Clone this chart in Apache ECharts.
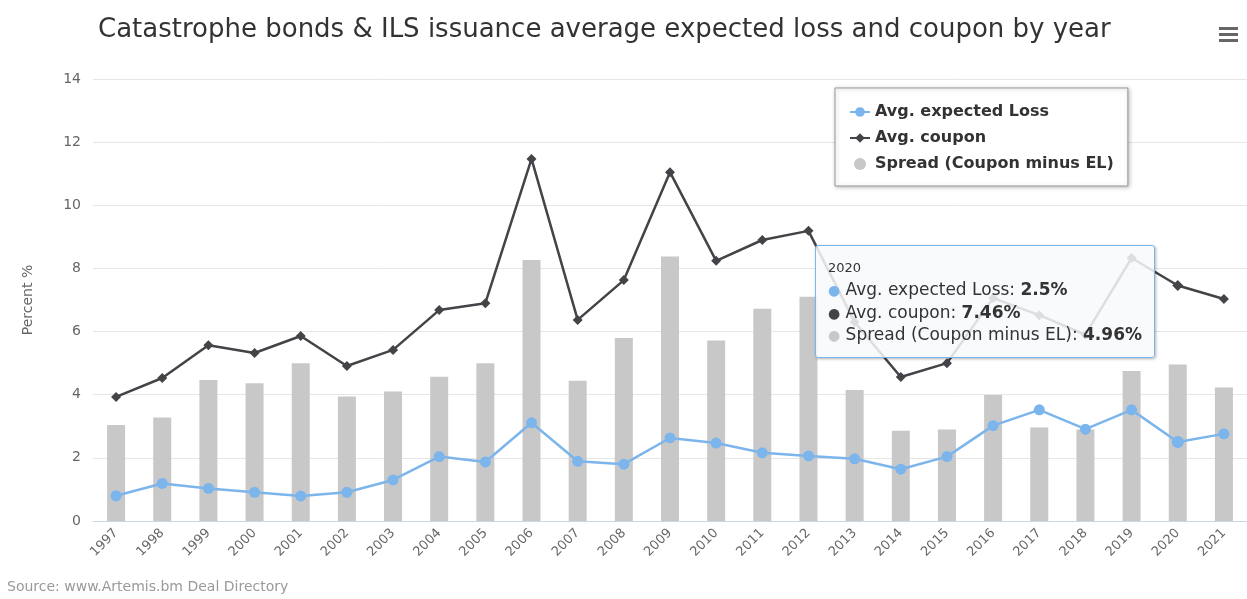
<!DOCTYPE html>
<html>
<head>
<meta charset="utf-8">
<script src="https://cdn.jsdelivr.net/npm/echarts@6/dist/echarts.min.js"></script>
<style>
html,body{margin:0;padding:0;background:#fff;}
#c{width:1247px;height:599px;}
</style>
</head>
<body>
<div id="c"></div>
<script>
var years = ['1997','1998','1999','2000','2001','2002','2003','2004','2005','2006','2007','2008','2009','2010','2011','2012','2013','2014','2015','2016','2017','2018','2019','2020','2021'];
var avgExpectedLoss = [0.8,1.19,1.03,0.91,0.79,0.91,1.3,2.04,1.87,3.11,1.89,1.8,2.63,2.47,2.16,2.06,1.97,1.64,2.04,3.02,3.52,2.91,3.52,2.5,2.76];
var avgCoupon = [3.93,4.53,5.57,5.32,5.86,4.91,5.42,6.68,6.9,11.47,6.37,7.63,11.05,8.24,8.9,9.19,6.3,4.56,5.0,7.06,6.52,5.9,8.33,7.46,7.03];
var spread = [3.04,3.28,4.47,4.36,5.0,3.94,4.1,4.57,5.0,8.27,4.44,5.8,8.38,5.72,6.72,7.1,4.15,2.86,2.9,3.99,2.96,2.9,4.75,4.96,4.23];
var yTicks = [0,2,4,6,8,10,12,14];

var FONT = '"DejaVu Sans", Verdana, sans-serif';
var names = ['Avg. expected Loss','Avg. coupon','Spread (Coupon minus EL)'];
var colors = ['#7cb5ec','#434348','#c8c8c8'];

var chart = echarts.init(document.getElementById('c'), null, {renderer:'canvas'});
var option = {
  animation:false,
  backgroundColor:'#fff',
  textStyle:{fontFamily:FONT},
  title:{
    text:'Catastrophe bonds & ILS issuance average expected loss and coupon by year',
    left:93, top:12,
    textStyle:{fontSize:26,fontWeight:'normal',color:'#333',fontFamily:FONT}
  },
  legend:{
    orient:'vertical',
    left:835, top:88,
    padding:[16,14,14,14],
    itemGap:10,
    itemWidth:20, itemHeight:12,
    backgroundColor:'#fff',
    borderColor:'#999',
    borderWidth:1,
    shadowColor:'rgba(0,0,0,0.25)',
    shadowBlur:4, shadowOffsetX:1, shadowOffsetY:1,
    textStyle:{fontSize:16,fontWeight:'bold',color:'#333',fontFamily:FONT,lineHeight:16},
    data:[{name:names[0]},{name:names[1]},{name:names[2],icon:'circle',itemStyle:{color:colors[2]}}]
  },
  tooltip:{
    trigger:'axis',
    axisPointer:{type:'none'},
    alwaysShowContent:true,
    transitionDuration:0,
    position:function(){return [815,245];},
    backgroundColor:'rgba(247,249,251,0.85)',
    borderColor:'#7cb5ec',
    borderWidth:1,
    padding:[13,12,10,12],
    extraCssText:'border-radius:3px;box-shadow:1px 1px 3px rgba(0,0,0,0.3);',
    formatter:function(params){
      var idx = params[0].dataIndex;
      var vals = [avgExpectedLoss[idx], avgCoupon[idx], spread[idx]];
      var h = '<div style="font-family:'+FONT.replace(/"/g,"'")+';color:#333;">';
      h += '<div style="font-size:13px;line-height:18px;margin-bottom:2px;">'+years[idx]+'</div>';
      for (var i=0;i<3;i++){
        h += '<div style="font-size:17px;line-height:21.5px;white-space:nowrap;"><span style="color:'+colors[i]+';font-size:14px;">\u25CF</span> '+names[i]+': <b>'+vals[i]+'%</b></div>';
      }
      return h+'</div>';
    }
  },
  grid:{left:93,right:0,top:79,bottom:78,containLabel:false},
  xAxis:{
    type:'category',
    data:years,
    boundaryGap:true,
    axisLine:{lineStyle:{color:'#ccd6eb'}},
    axisTick:{show:false},
    axisLabel:{rotate:45,interval:0,fontSize:13,color:'#666',margin:10,fontFamily:FONT}
  },
  yAxis:{
    type:'value',
    min:yTicks[0], max:yTicks[yTicks.length-1], interval:2,
    name:'Percent %',
    nameLocation:'middle',
    nameGap:58,
    nameRotate:90,
    nameTextStyle:{fontSize:14,color:'#666',fontFamily:FONT},
    axisLine:{show:false},
    axisTick:{show:false},
    axisLabel:{fontSize:14,color:'#666',margin:12,fontFamily:FONT},
    splitLine:{lineStyle:{color:'#e6e6e6'}}
  },
  series:[
    {
      name:names[0], type:'line', data:avgExpectedLoss, z:3,
      symbol:'circle', symbolSize:11,
      emphasis:{disabled:true},
      itemStyle:{color:colors[0]},
      lineStyle:{color:colors[0],width:2.5}
    },
    {
      name:names[1], type:'line', data:avgCoupon, z:4,
      symbol:'diamond', symbolSize:10,
      emphasis:{disabled:true},
      itemStyle:{color:colors[1]},
      lineStyle:{color:colors[1],width:2.5}
    },
    {
      name:names[2], type:'bar', data:spread, z:1,
      barWidth:18,
      emphasis:{disabled:true},
      itemStyle:{color:colors[2]}
    }
  ],
  graphic:[
    {type:'rect',left:1219,top:27,shape:{width:19,height:3},style:{fill:'#666'}},
    {type:'rect',left:1219,top:33,shape:{width:19,height:3},style:{fill:'#666'}},
    {type:'rect',left:1219,top:39,shape:{width:19,height:3},style:{fill:'#666'}},
    {type:'text',left:7,top:580,style:{text:'Source: www.Artemis.bm Deal Directory',fontSize:14,fill:'#999',fontFamily:FONT}}
  ]
};
chart.setOption(option);
chart.dispatchAction({type:'showTip',seriesIndex:0,dataIndex:23});
</script>
</body>
</html>
